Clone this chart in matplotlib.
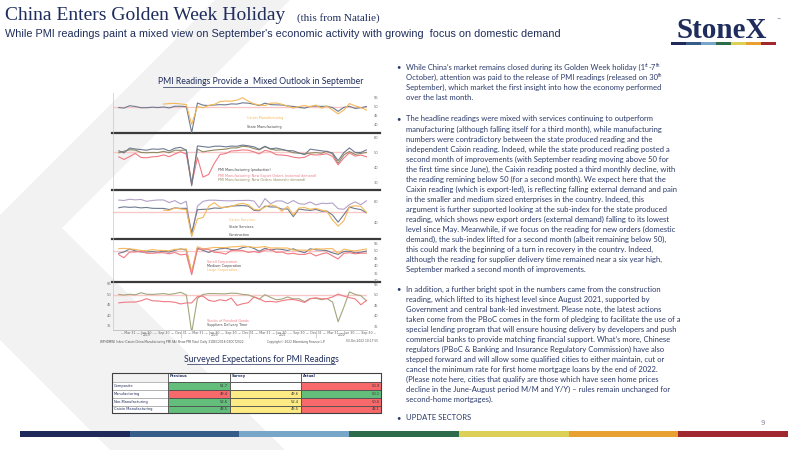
import re
import numpy as np
import pandas as pd
import matplotlib
matplotlib.use("Agg")
import matplotlib.pyplot as plt
import matplotlib.transforms as mtransforms
from matplotlib.patches import Polygon, Rectangle

W, H = 800, 450
NAVY = "#1f2d5c"
TEXT = "#2b3a6b"

# ---- monthly PMI data, Jan 2019 - Sep 2022 ----
dates = pd.date_range("2019-01-31", "2022-09-30", freq="ME")
nan = np.nan

state_mfg = [49.5, 49.2, 50.5, 50.1, 49.4, 49.4, 49.7, 49.5, 49.8, 49.3, 50.2, 50.2,
             50.0, 35.7, 52.0, 50.8, 50.6, 50.9, 51.1, 51.0, 51.5, 51.4, 52.1, 51.9,
             51.3, 50.6, 51.9, 51.1, 51.0, 50.9, 50.4, 50.1, 49.6, 49.2, 50.1, 50.3,
             50.1, 50.2, 49.5, 47.4, 49.6, 50.2, 49.0, 49.4, 50.1]
caixin_mfg = [nan, nan, nan, nan, nan, nan, nan, nan, 51.4, 51.7, 51.8, 51.5,
              51.1, 40.3, 50.1, 49.4, 50.7, 51.2, 52.8, 53.1, 53.0, 53.6, 54.9, 53.0,
              51.5, 50.9, 50.6, 51.9, 52.0, 51.3, 50.3, 49.2, 50.0, 50.6, 49.9, 50.9,
              49.1, 50.4, 48.1, 46.0, 48.1, 51.7, 50.4, 49.5, 48.1]

production = [50.9, 49.5, 52.7, 52.1, 51.7, 51.3, 52.1, 51.9, 52.3, 50.8, 52.6, 53.2,
              51.3, 27.8, 54.1, 53.7, 53.2, 53.9, 54.0, 53.5, 54.0, 53.9, 54.7, 54.2,
              53.5, 51.9, 53.9, 52.2, 52.7, 51.9, 51.0, 50.9, 49.5, 48.4, 52.0, 51.4,
              50.9, 50.4, 49.5, 44.4, 49.7, 52.8, 49.8, 49.8, 51.5]
export_orders = [46.9, 45.2, 47.1, 49.2, 46.5, 46.3, 46.9, 47.2, 48.2, 47.0, 48.8, 50.3,
                 48.7, 28.7, 46.4, 33.5, 35.3, 42.6, 48.4, 49.1, 50.8, 51.0, 51.5, 51.3,
                 50.2, 48.8, 51.2, 50.4, 48.3, 48.1, 47.7, 46.7, 46.2, 46.6, 48.5, 48.1,
                 48.4, 49.0, 47.2, 41.6, 46.2, 49.5, 47.4, 48.1, 47.0]
new_orders = [49.6, 50.6, 51.6, 51.4, 49.8, 49.6, 49.8, 49.7, 50.5, 49.6, 51.3, 51.2,
              51.4, 29.3, 52.0, 50.2, 50.9, 51.4, 51.7, 52.0, 52.8, 52.8, 53.9, 53.6,
              52.3, 51.5, 53.6, 52.0, 51.3, 51.5, 50.9, 49.6, 49.3, 48.8, 49.4, 49.7,
              49.3, 50.7, 48.8, 42.6, 48.2, 50.4, 48.5, 49.2, 49.8]

caixin_svc = [nan, nan, nan, nan, nan, nan, nan, nan, 51.3, 51.1, 53.5, 52.5,
              51.8, 26.5, 43.0, 44.4, 55.0, 58.4, 54.1, 54.0, 54.8, 56.8, 57.8, 56.3,
              52.0, 51.5, 54.3, 56.3, 55.1, 50.3, 54.9, 46.7, 53.4, 53.8, 52.1, 53.1,
              51.4, 50.2, 42.0, 36.2, 41.4, 54.5, 55.5, 55.0, 49.3]
state_svc = [53.6, 54.5, 54.0, 54.3, 53.5, 53.9, 53.1, 53.0, 53.0, 51.9, 53.5, 53.0,
             53.1, 30.1, 51.8, 52.1, 52.3, 53.4, 53.1, 54.3, 55.2, 55.5, 55.7, 55.2,
             51.1, 50.8, 55.2, 54.4, 54.3, 52.3, 52.5, 45.2, 52.4, 51.6, 51.1, 52.0,
             50.3, 50.5, 46.7, 40.0, 47.1, 54.3, 52.8, 51.9, 48.9]
construction = [60.9, 60.5, 61.7, 61.1, 61.5, 59.7, 60.5, 61.0, 61.0, 58.5, 60.4, 57.3,
                59.7, 26.6, 55.1, 59.7, 60.8, 60.8, 60.5, 60.2, 60.2, 60.5, 60.5, 60.7,
                60.0, 53.6, 62.3, 57.4, 60.1, 60.1, 57.5, 60.5, 57.5, 56.9, 59.1, 56.3,
                57.9, 57.6, 58.1, 52.7, 52.2, 56.6, 59.2, 56.5, 60.2]

small_corp = [47.3, 45.3, 49.1, 49.1, 49.6, 48.3, 48.2, 48.6, 48.6, 47.9, 48.8, 47.2,
              47.6, 34.1, 50.9, 51.0, 50.8, 48.9, 48.6, 47.7, 50.1, 50.3, 50.1, 48.8,
              49.4, 48.7, 50.4, 50.8, 48.8, 49.1, 47.8, 48.2, 47.5, 47.5, 48.5, 46.5,
              47.8, 48.6, 46.5, 44.5, 48.2, 48.6, 47.9, 48.3, 48.3]
medium_corp = [48.2, 49.1, 51.1, 49.8, 49.1, 49.1, 49.4, 48.9, 49.7, 49.0, 50.2, 51.1,
               50.4, 35.5, 51.6, 50.2, 48.8, 50.2, 51.2, 51.6, 50.7, 50.6, 52.0, 52.7,
               51.4, 49.6, 51.6, 50.3, 51.1, 50.8, 50.1, 51.2, 49.7, 48.6, 51.2, 50.5,
               50.3, 50.0, 48.5, 47.5, 49.4, 49.6, 48.5, 48.9, 49.7]
large_corp = [51.3, 51.5, 51.1, 50.8, 50.1, 49.9, 50.7, 50.2, 50.1, 49.9, 50.9, 50.9,
              51.1, 36.1, 52.6, 51.1, 51.6, 52.1, 52.0, 52.0, 52.5, 52.6, 53.0, 52.7,
              52.1, 52.2, 52.7, 51.7, 51.8, 51.7, 51.7, 50.3, 50.4, 50.3, 50.2, 51.3,
              51.0, 51.3, 51.3, 48.1, 51.0, 50.2, 49.8, 50.5, 51.1]

finished_goods = [46.1, 46.4, 46.5, 46.5, 47.1, 48.1, 47.1, 47.0, 46.7, 46.7, 46.4, 45.6,
                  46.1, 46.1, 49.1, 49.3, 47.3, 46.8, 47.6, 47.1, 48.4, 44.9, 45.7, 46.2,
                  49.0, 48.0, 46.7, 46.8, 46.5, 47.1, 47.6, 47.7, 47.2, 46.3, 48.0, 48.5,
                  48.0, 48.1, 48.9, 50.3, 49.3, 48.6, 48.0, 45.2, 47.3]
supplier_delivery = [50.1, 49.8, 50.2, 49.9, 50.9, 50.2, 50.1, 50.3, 50.5, 50.1, 50.5, 51.1,
                     49.9, 32.1, 48.2, 50.1, 50.5, 50.5, 50.4, 50.4, 50.7, 50.6, 50.1, 49.9,
                     48.8, 47.9, 50.0, 48.7, 47.6, 47.9, 48.9, 48.0, 48.1, 46.7, 48.2, 48.3,
                     47.6, 48.2, 46.5, 37.2, 44.1, 51.3, 50.1, 49.5, 47.1]

# ---- table data ----
table_rows = ["Composite", "Manufacturing", "Non-Manufacturing", "Caixin Manufacturing"]
table_cols = ["Previous", "Survey", "Actual"]
previous = [51.7, 49.4, 52.6, 49.5]
survey = [None, 49.6, 52.4, 49.5]
actual = [50.9, 50.1, 50.6, 48.1]

# ---- slide text (^{..} marks a superscript) ----
paragraphs = [
    (67, ["While China’s market remains closed during its Golden Week holiday (1^{st}-7^{th}",
          "October), attention was paid to the release of PMI readings (released on 30^{th}",
          "September), which market the first insight into how the economy performed",
          "over the last month."]),
    (119, ["The headline readings were mixed with services continuing to outperform",
           "manufacturing (although falling itself for a third month), while manufacturing",
           "numbers were contradictory between the state produced reading and the",
           "independent Caixin reading. Indeed, while the state produced reading posted a",
           "second month of improvements (with September reading moving above 50 for",
           "the first time since June), the Caixin reading posted a third monthly decline, with",
           "the reading remining below 50 (for a second month). We expect here that the",
           "Caixin reading (which is export-led), is reflecting falling external demand and pain",
           "in the smaller and medium sized enterprises in the country. Indeed, this",
           "argument is further supported looking at the sub-index for the state produced",
           "reading, which shows new export orders (external demand) falling to its lowest",
           "level since May. Meanwhile, if we focus on the reading for new orders (domestic",
           "demand), the sub-index lifted for a second month (albeit remaining below 50),",
           "this could mark the beginning of a turn in recovery in the country. Indeed,",
           "although the reading for supplier delivery time remained near a six year high,",
           "September marked a second month of improvements."]),
    (289, ["In addition, a further bright spot in the numbers came from the construction",
           "reading, which lifted to its highest level since August 2021, supported by",
           "Government and central bank-led investment. Please note, the latest actions",
           "taken come from the PBoC comes in the form of pledging to facilitate the use of a",
           "special lending program that will ensure housing delivery by developers and push",
           "commercial banks to provide matching financial support. What’s more, Chinese",
           "regulators (PBoC & Banking and Insurance Regulatory Commission) have also",
           "stepped forward and will allow some qualified cities to either maintain, cut or",
           "cancel the minimum rate for first home mortgage loans by the end of 2022.",
           "(Please note here, cities that qualify are those which have seen home prices",
           "decline in the June-August period M/M and Y/Y) – rules remain unchanged for",
           "second-home mortgages)."]),
    (418, ["UPDATE SECTORS"]),
]

stripe_colors = ["#1f2a5a", "#365c8a", "#78a6c8", "#2e6b4b", "#dcd056", "#e8a030", "#a0282e"]


def box(x0, y0, x1, y1):
    return [x0 / W, 1 - y1 / H, (x1 - x0) / W, (y1 - y0) / H]


fig = plt.figure(figsize=(8, 4.5), dpi=100)
renderer = fig.canvas.get_renderer()
bg = fig.add_axes([0, 0, 1, 1])
bg.set_xlim(0, W)
bg.set_ylim(H, 0)
bg.axis("off")


def body_line(x, y, line, size=5.5):
    # plain runs at full size, ^{..} runs smaller and raised
    for idx, part in enumerate(re.split(r"\^\{(.*?)\}", line)):
        if not part:
            continue
        if idx % 2 == 0:
            t = bg.text(x, y, part, family="Lato", fontsize=size, color=TEXT, va="center")
        else:
            t = bg.text(x, y - 1.8, part, family="Lato", fontsize=size * 0.62, color=TEXT, va="center")
        x += t.get_window_extent(renderer).width


# faint chevron in the background
bg.add_patch(Polygon([(215, 0), (290, 0), (62, 228), (285, 450), (110, 450), (0, 340), (0, 215)],
                     closed=True, facecolor="#f2f2f2", edgecolor="none", zorder=0))

# title block
bg.text(5, 16, "China Enters Golden Week Holiday", family="Liberation Serif", fontsize=14,
        color=NAVY, va="center")
bg.text(297, 18, "(this from Natalie)", family="Liberation Serif", fontsize=8,
        color=NAVY, va="center")
bg.text(5, 34, "While PMI readings paint a mixed view on September's economic activity with growing  focus on domestic demand",
        family="Liberation Sans", fontsize=7.8, color=NAVY, va="center")

# logo
bg.text(722, 30, "StoneX", family="Liberation Serif", fontsize=21, fontweight="bold",
        color=NAVY, va="center", ha="center")
bg.text(776, 21, "™", fontsize=3, color=NAVY)
seg = 105 / len(stripe_colors)
for i, c in enumerate(stripe_colors):
    bg.add_patch(Rectangle((671 + i * seg, 41.5), seg, 3, facecolor=c, edgecolor="none"))

# bottom stripe
seg = 768 / len(stripe_colors)
for i, c in enumerate(stripe_colors):
    bg.add_patch(Rectangle((20 + i * seg, 431), seg, 6, facecolor=c, edgecolor="none"))
bg.text(763, 423, "9", fontsize=5, color="#8a8a9a", ha="center", va="center")

# bullet text
for y0, lines in paragraphs:
    bg.text(396, y0, "•", family="Lato", fontsize=5.5, color=TEXT, va="center")
    for i, line in enumerate(lines):
        body_line(406, y0 + i * 10.05, line)

# chart headings
for x0, x1, y, label in [(163, 359, 82, "PMI Readings Provide a  Mixed Outlook in September"),
                         (187, 335, 359, "Surveyed Expectations for PMI Readings")]:
    bg.text((x0 + x1) / 2, y, label, family="Lato", fontsize=6.2, color=NAVY,
            ha="center", va="center")
    bg.plot([x0, x1], [y + 4.5, y + 4.5], color=NAVY, lw=0.5)

# ---- Bloomberg style stacked panels ----
xmin, xmax = pd.Timestamp("2018-12-31"), pd.Timestamp("2022-10-03")
C_GREY = "#6e7a90"
C_ORANGE = "#f5b85a"
C_PINK = "#f07a84"
C_OLIVE = "#8d8a60"
C_PURPLE = "#b4a2c8"
C_SAGE = "#a4a67c"

panels = [
    (93, 133, (35.5, 57.5), [55, 50, 45, 40],
     [(state_mfg, C_GREY), (caixin_mfg, C_ORANGE)],
     [("Caixin Manufacturing", C_ORANGE, 247, 118), ("State Manufacturing", "#444444", 247, 127)]),
    (134, 190, (25, 62), [60, 50, 40, 30],
     [(new_orders, C_OLIVE), (export_orders, C_PINK), (production, C_GREY)],
     [("PMI Manufacturing (production)", "#444444", 218, 170),
      ("PMI Manufacturing: New Export Orders (external demand)", C_PINK, 218, 175.5),
      ("PMI Manufacturing: New Orders (domestic demand)", C_OLIVE, 218, 180.5)]),
    (191, 239, (24, 69.5), [60, 40],
     [(construction, C_PURPLE), (state_svc, C_GREY), (caixin_svc, C_ORANGE)],
     [("Caixin Services", C_ORANGE, 229, 220), ("State Services", "#444444", 229, 227),
      ("Construction", "#444444", 229, 235)]),
    (240, 282, (29.3, 57), [55, 50, 45, 40, 35, 30],
     [(medium_corp, C_GREY), (large_corp, C_ORANGE), (small_corp, C_PINK)],
     [("Small Corporation", C_PINK, 207, 261.5), ("Medium Corporation", "#444444", 207, 265.5),
      ("Large Corporation", C_ORANGE, 207, 269.5)]),
    (283, 330, (33.3, 55.5), [55, 50, 45, 40, 35],
     [(supplier_delivery, C_SAGE), (finished_goods, C_PINK)],
     [("Stocks of Finished Goods", C_PINK, 207, 321), ("Suppliers Delivery Time", "#444444", 207, 325)]),
]

for k, (top, bottom, ylim, yticks, series, legend) in enumerate(panels):
    ax = fig.add_axes(box(113, top, 367, bottom))
    ax.patch.set_alpha(0)
    ax.axhline(50, color="#f8c8c8", lw=1.0, zorder=1)
    for values, color in series:
        ax.plot(dates, values, color=color, lw=0.8, zorder=2)
    ax.set_xlim(xmin, xmax)
    ax.set_ylim(*ylim)
    ax.yaxis.tick_right()
    ax.set_yticks(yticks)
    ax.tick_params(axis="y", length=0, labelsize=2.6, labelcolor="#707070", pad=5)
    for side in ["top", "right", "bottom"]:
        ax.spines[side].set_visible(False)
    ax.spines["left"].set_color("#c8c8c8")
    ax.spines["left"].set_linewidth(0.5)
    if k < len(panels) - 1:
        ax.set_xticks([])
        bg.plot([112, 380], [bottom, bottom], color="#3a3a3a", lw=1.6)
    else:
        ax.spines["bottom"].set_visible(True)
        ax.spines["bottom"].set_color("#b0b0b0")
        ax.spines["bottom"].set_linewidth(0.5)
        qdates = pd.date_range("2019-03-31", "2022-09-30", freq="QE")
        ax.set_xticks(qdates)
        ax.set_xticklabels(["-- " + d.strftime("%b %d") + " --" for d in qdates])
        ax.tick_params(axis="x", length=0, labelsize=2.3, labelcolor="#606060", pad=0.6)
        ybounds = pd.to_datetime(["2020-01-01", "2021-01-01", "2022-01-01"])
        ax.set_xticks(ybounds, minor=True)
        ax.tick_params(axis="x", which="minor", length=6, width=0.4, color="#b0b0b0")
        trans = mtransforms.blended_transform_factory(ax.transData, ax.transAxes)
        for yr in ["2019", "2020", "2021", "2022"]:
            start = pd.Timestamp(yr + "-01-01")
            mid = start + (min(pd.Timestamp(yr + "-12-31"), xmax) - start) / 2
            ax.text(mid, -0.115, yr, transform=trans, fontsize=2.2, color="#606060",
                    ha="center", va="center")
        # left axis labels on the last panel too
        ltrans = mtransforms.blended_transform_factory(ax.transAxes, ax.transData)
        for v in yticks:
            ax.text(-0.005, v, str(v), transform=ltrans, fontsize=2.6, color="#707070",
                    ha="right", va="center")
    for label, color, x, y in legend:
        bg.text(x, y, label, fontsize=2.4, color=color, va="center", family="Liberation Sans Narrow")

bg.text(100, 341.5, "WPHDMWI Index (Caixin China Manufacturing PMI SA) Show PMI Total  Daily 31DEC2018-03OCT2022",
        fontsize=2.1, color="#505050", va="center")
bg.text(267, 341.5, "Copyright© 2022 Bloomberg Finance L.P.", fontsize=2.1, color="#505050", va="center")
bg.text(378, 341.5, "03-Oct-2022 10:17:55", fontsize=2.1, color="#505050", va="center", ha="right")

# ---- expectations table ----
col_x = [112, 167.5, 229.5, 300.5, 381]
row_y = [373, 382, 390, 398, 405.5, 413]
GREEN, RED, YELLOW = "#63be7b", "#f8696b", "#ffeb84"

for j, name in enumerate(table_cols):
    bg.add_patch(Rectangle((col_x[j + 1], row_y[0]), col_x[j + 2] - col_x[j + 1], row_y[1] - row_y[0],
                           facecolor="white", edgecolor="#505050", lw=0.6))
    bg.text(col_x[j + 1] + 2, row_y[0] + 3, name, fontsize=2.6, color=NAVY, fontweight="bold", va="center")

for i, name in enumerate(table_rows):
    y0, y1 = row_y[i + 1], row_y[i + 2]
    bg.add_patch(Rectangle((col_x[0], y0), col_x[1] - col_x[0], y1 - y0,
                           facecolor="white", edgecolor="#a0a0a0", lw=0.5))
    bg.text(col_x[0] + 1.5, (y0 + y1) / 2, name, fontsize=2.6, color=NAVY, va="center")
    hi_prev = previous[i] >= actual[i]
    cells = [(previous[i], GREEN if hi_prev else RED),
             (survey[i], YELLOW if survey[i] is not None else "white"),
             (actual[i], RED if hi_prev else GREEN)]
    for j, (val, color) in enumerate(cells):
        bg.add_patch(Rectangle((col_x[j + 1], y0), col_x[j + 2] - col_x[j + 1], y1 - y0,
                               facecolor=color, edgecolor="#505050", lw=0.6))
        if val is not None:
            bg.text(col_x[j + 2] - 1.5, (y0 + y1) / 2, f"{val:.1f}", fontsize=2.6, color="#333333",
                    ha="right", va="center")
bg.add_patch(Rectangle((col_x[0], row_y[0]), col_x[-1] - col_x[0], row_y[-1] - row_y[0],
                       facecolor="none", edgecolor="#404040", lw=0.8))

fig.savefig("out.png", dpi=100)
